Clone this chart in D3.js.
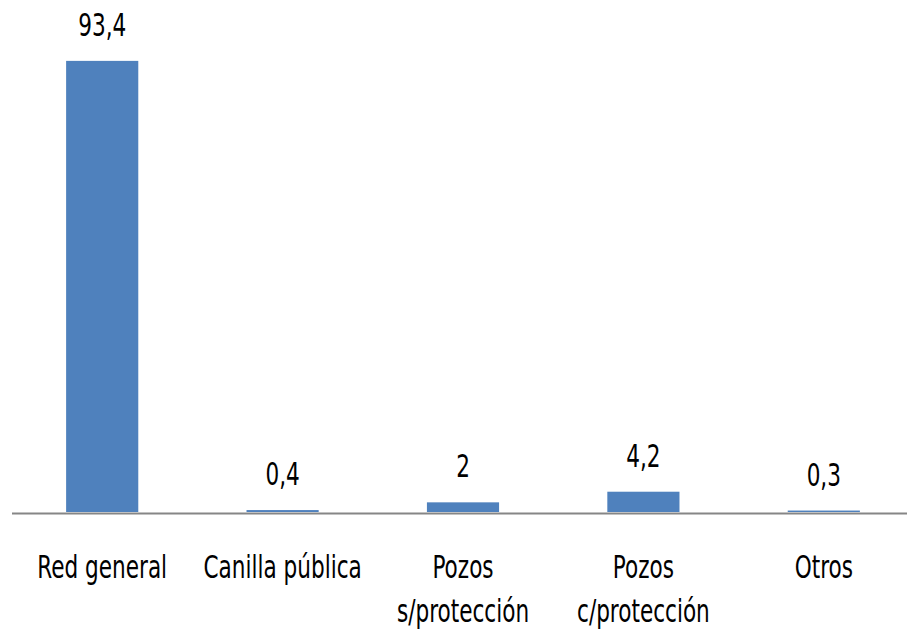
<!DOCTYPE html>
<html>
<head>
<meta charset="utf-8">
<script src="https://cdn.jsdelivr.net/npm/d3@7"></script>
<style>
  body { margin: 0; background: #fff; }
  text { font-family: "DejaVu Sans Condensed", "Liberation Sans Narrow", sans-serif; fill: #000; }
</style>
</head>
<body>
<div id="chart"></div>
<script>
var svgWidth = 907;
var svgHeight = 631;

// data
var categories = ["Red general", "Canilla pública", "Pozos s/protección", "Pozos c/protección", "Otros"];
var catLines = [["Red general"], ["Canilla pública"], ["Pozos", "s/protección"], ["Pozos", "c/protección"], ["Otros"]];
var values = [93.4, 0.4, 2, 4.2, 0.3];
var valueLabels = ["93,4", "0,4", "2", "4,2", "0,3"];

var baseY = 512;
var stretch = 1.3; // text in the picture is tall and narrow

var svg = d3.select("#chart")
  .append("svg")
  .attr("width", svgWidth)
  .attr("height", svgHeight);

var xScale = d3.scaleBand()
  .domain(categories)
  .range([12, 914])
  .paddingInner(0.6)
  .paddingOuter(0.3);

var yScale = d3.scaleLinear()
  .domain([0, 100])
  .range([baseY, baseY - 483]);

var cx = c => xScale(c) + xScale.bandwidth() / 2;

// bars
svg.selectAll("rect.bar")
  .data(values)
  .enter()
  .append("rect")
  .attr("class", "bar")
  .attr("x", (d, i) => xScale(categories[i]))
  .attr("y", d => yScale(d))
  .attr("width", xScale.bandwidth())
  .attr("height", d => baseY - yScale(d))
  .attr("fill", "#4F81BD");

// value labels
svg.selectAll("text.val")
  .data(values)
  .enter()
  .append("text")
  .attr("class", "val")
  .attr("text-anchor", "middle")
  .attr("transform", (d, i) => `translate(${cx(categories[i])},${yScale(d) - 25}) scale(1,${stretch})`)
  .style("font-size", "24px")
  .text((d, i) => valueLabels[i]);

// x axis line
svg.append("line")
  .attr("x1", 12)
  .attr("x2", svgWidth)
  .attr("y1", baseY + 1.5)
  .attr("y2", baseY + 1.5)
  .attr("stroke", "#868686")
  .attr("stroke-width", 2);

// category labels, one text per line
var lineData = [];
categories.forEach(function(c, i) {
  catLines[i].forEach(function(l, j) {
    lineData.push({ cat: c, text: l, row: j });
  });
});

svg.selectAll("text.cat")
  .data(lineData)
  .enter()
  .append("text")
  .attr("class", "cat")
  .attr("text-anchor", "middle")
  .attr("transform", d => `translate(${cx(d.cat)},${578 + d.row * 44}) scale(1,${stretch})`)
  .style("font-size", "24px")
  .text(d => d.text);
</script>
</body>
</html>
